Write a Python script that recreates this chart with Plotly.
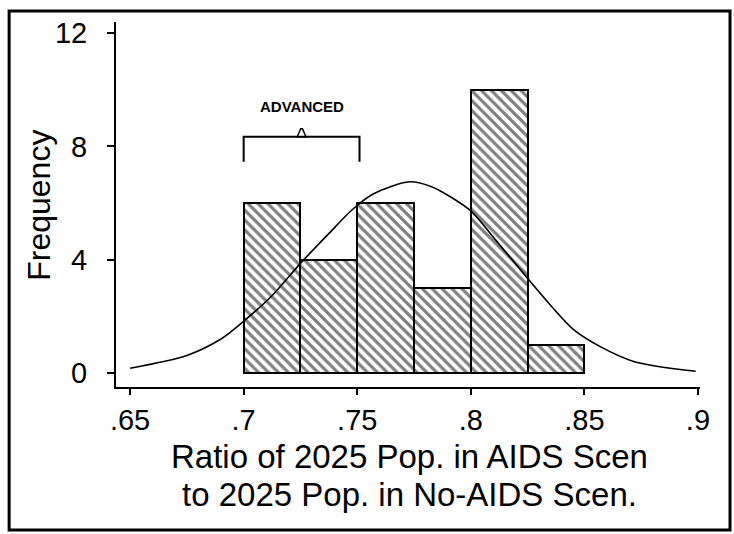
import plotly.graph_objects as go

# ---- data ----
bin_left = [0.700, 0.725, 0.750, 0.775, 0.800, 0.825]
bin_width = 0.025
counts = [6, 4, 6, 3, 10, 1]

# fitted normal-density overlay
curve_x = [0.650, 0.675, 0.690, 0.699, 0.712, 0.725, 0.737, 0.748, 0.757, 0.773,
           0.783, 0.791, 0.800, 0.811, 0.825, 0.835, 0.845, 0.857, 0.872, 0.899]
curve_y = [0.17, 0.62, 1.20, 1.76, 2.69, 3.87, 4.88, 5.78, 6.32, 6.75,
           6.57, 6.22, 5.72, 4.69, 3.34, 2.40, 1.55, 0.93, 0.40, 0.06]

x_tickvals = [0.65, 0.70, 0.75, 0.80, 0.85, 0.90]
x_ticktext = [".65", ".7", ".75", ".8", ".85", ".9"]
y_tickvals = [0, 4, 8, 12]
y_ticktext = ["0", "4", "8", "12"]

x_title_1 = "Ratio of 2025 Pop. in AIDS Scen"
x_title_2 = "to 2025 Pop. in No-AIDS Scen."
y_title = "Frequency"

adv_label = "<b>ADVANCED</b>"
adv_x = [0.700, 0.751]
adv_y_top = 8.34
adv_y_bot = 7.46

FONT = "Liberation Sans, Arial, sans-serif"

centers = [b + bin_width / 2 for b in bin_left]

fig = go.Figure()
fig.add_trace(go.Bar(
    x=centers, y=counts, width=bin_width,
    marker=dict(color="white",
                line=dict(color="black", width=2),
                pattern=dict(shape="\\", fgcolor="black", bgcolor="white",
                             size=7, solidity=0.45)),
    showlegend=False, hoverinfo="skip",
))
fig.add_trace(go.Scatter(
    x=curve_x, y=curve_y, mode="lines",
    line=dict(color="black", width=1.6, shape="spline", smoothing=0.8),
    showlegend=False, hoverinfo="skip",
))

# bracket for ADVANCED
mid = (adv_x[0] + adv_x[1]) / 2
fig.add_shape(type="path",
              path=f"M {adv_x[0]},{adv_y_bot} L {adv_x[0]},{adv_y_top} L {adv_x[1]},{adv_y_top} L {adv_x[1]},{adv_y_bot}",
              xref="x", yref="y", line=dict(color="black", width=2))
fig.add_shape(type="path",
              path=f"M {mid-0.0019},{adv_y_top} L {mid-0.0004},{adv_y_top+0.28} L {mid+0.0004},{adv_y_top+0.28} L {mid+0.0019},{adv_y_top} Z",
              xref="x", yref="y", line=dict(color="black", width=1.5))
fig.add_annotation(x=mid, y=9.41, xref="x", yref="y", text=adv_label,
                   xanchor="center", yanchor="middle",
                   showarrow=False, font=dict(family=FONT, size=15, color="black"))

# outer frame
fig.add_shape(type="rect", xref="paper", yref="paper",
              x0=-0.183, x1=1.0514, y0=-0.392, y1=1.030,
              line=dict(color="black", width=3))

# axis titles
fig.add_annotation(x=0.503, y=-0.191, xref="paper", yref="paper", text=x_title_1,
                   xanchor="center", yanchor="middle",
                   showarrow=False, font=dict(family=FONT, size=33, color="black"))
fig.add_annotation(x=0.503, y=-0.295, xref="paper", yref="paper", text=x_title_2,
                   xanchor="center", yanchor="middle",
                   showarrow=False, font=dict(family=FONT, size=33, color="black"))
fig.add_annotation(x=-0.132, y=0.499, xref="paper", yref="paper", text=y_title,
                   xanchor="center", yanchor="middle",
                   textangle=-90, showarrow=False,
                   font=dict(family=FONT, size=32, color="black"))

fig.update_layout(
    width=734, height=534,
    margin=dict(l=116, r=34, t=22, b=147),
    paper_bgcolor="white", plot_bgcolor="white",
    font=dict(family=FONT, color="black"),
    bargap=0,
    xaxis=dict(range=[0.6438, 0.9009], tickvals=x_tickvals, ticktext=x_ticktext,
               showgrid=False, zeroline=False, showline=True, linecolor="black",
               linewidth=1.5, ticks="outside", ticklen=6, tickwidth=1.5,
               tickcolor="black", tickfont=dict(family=FONT, size=29),
               ticklabelstandoff=0),
    yaxis=dict(range=[-0.494, 12.39], tickvals=y_tickvals, ticktext=y_ticktext,
               showgrid=False, zeroline=False, showline=True, linecolor="black",
               linewidth=2, ticks="outside", ticklen=7, tickwidth=1.5,
               tickcolor="black", tickfont=dict(family=FONT, size=29),
               ticklabelstandoff=14),
)

fig.write_html("out.html")
